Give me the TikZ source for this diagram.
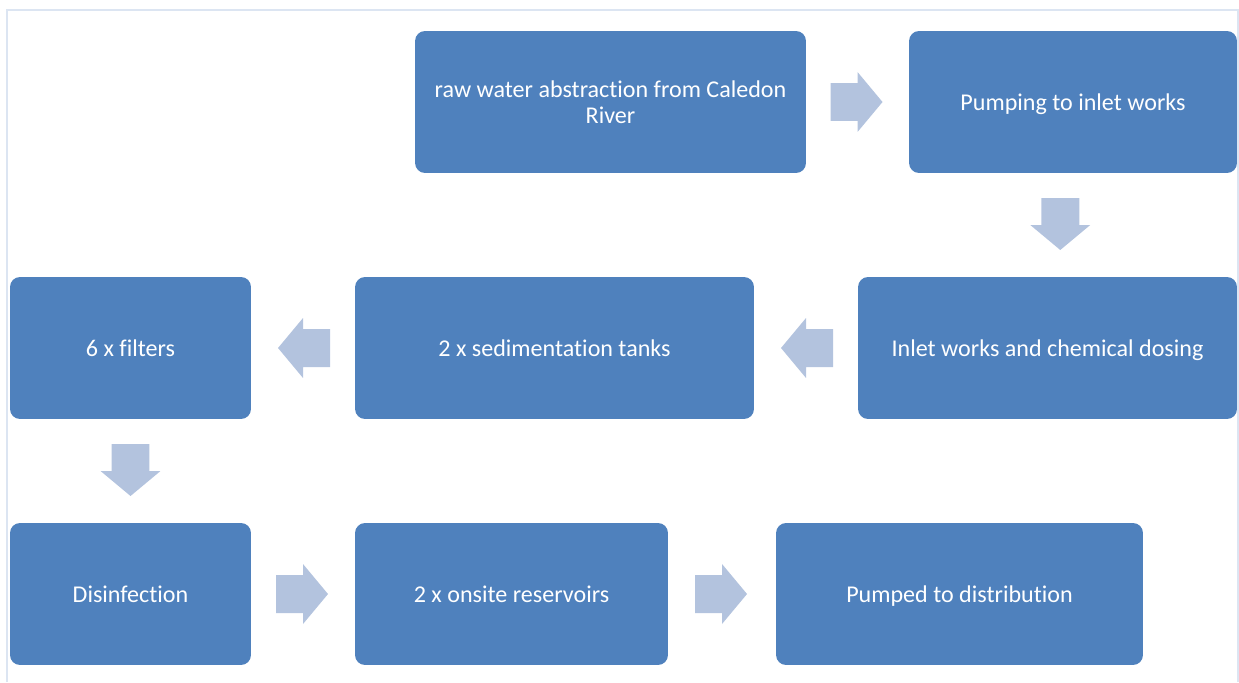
\documentclass[tikz,border=0pt]{standalone}
\usepackage{fontspec}
\setmainfont{Carlito}[Ligatures=NoCommon]
\usetikzlibrary{calc}

\definecolor{stepblue}{HTML}{4F81BD}
\definecolor{arrowblue}{HTML}{B3C3DE}
\definecolor{frameblue}{HTML}{DCE5F2}

\tikzset{
  stepbox/.style={fill=stepblue, rounded corners=0.2cm, minimum height=2.84cm,
    inner sep=0pt, align=center, text=white, text height=10.8pt, text depth=1.4pt,
    font=\fontsize{13.7}{14.6}\selectfont},
  flowarrow/.style={fill=arrowblue}
}

% block arrow half way between two anchors: #1 from, #2 to, #3 direction
\def\blockarrow(#1)(#2)(#3){\fill[flowarrow, shift={($(#1)!0.5!(#2)$)}, rotate=#3]
  (-0.54cm,-0.38cm) -- (0cm,-0.38cm) -- (0cm,-0.6cm) -- (0.5cm,0) --
  (0cm,0.6cm) -- (0cm,0.38cm) -- (-0.54cm,0.38cm) -- cycle;}

\begin{document}
\begin{tikzpicture}[x=0.02cm, y=-0.02cm]
			\useasboundingbox (0,0) rectangle (1239,682);
			
			%%%%% FRAME %%%%%
			\draw[frameblue, line width=0.7pt] (7,682) -- (7,10) -- (1238,10) -- (1238,682);
			
			%%%%% STEPS %%%%%
			\node[stepbox, text height=, text depth=, minimum width=7.82cm] (raw) at (610.5,102) {raw water abstraction from Caledon\\River};
			\node[stepbox, minimum width=6.56cm] (pump) at (1073,102) {Pumping to inlet works};
			
			\node[stepbox, minimum width=7.58cm] (inlet) at (1047.5,348) {Inlet works and chemical dosing};
			\node[stepbox, minimum width=7.98cm] (sedim) at (554.5,348) {2 x sedimentation tanks};
			\node[stepbox, minimum width=4.82cm] (filters) at (130.5,348) {6 x filters};
			
			\node[stepbox, minimum width=4.82cm] (disinf) at (130.5,594) {Disinfection};
			\node[stepbox, minimum width=6.26cm] (reserv) at (511.5,594) {2 x onsite reservoirs};
			\node[stepbox, minimum width=7.34cm] (distrib) at (959.5,594) {Pumped to distribution};
			
			%%%%% ARROWS %%%%%
			\blockarrow(raw.east)(pump.west)(0)
			\blockarrow(pump.south)(inlet.north)(-90)
			\blockarrow(inlet.west)(sedim.east)(180)
			\blockarrow(sedim.west)(filters.east)(180)
			\blockarrow(filters.south)(disinf.north)(-90)
			\blockarrow(disinf.east)(reserv.west)(0)
			\blockarrow(reserv.east)(distrib.west)(0)
			
		\end{tikzpicture}
\end{document}
